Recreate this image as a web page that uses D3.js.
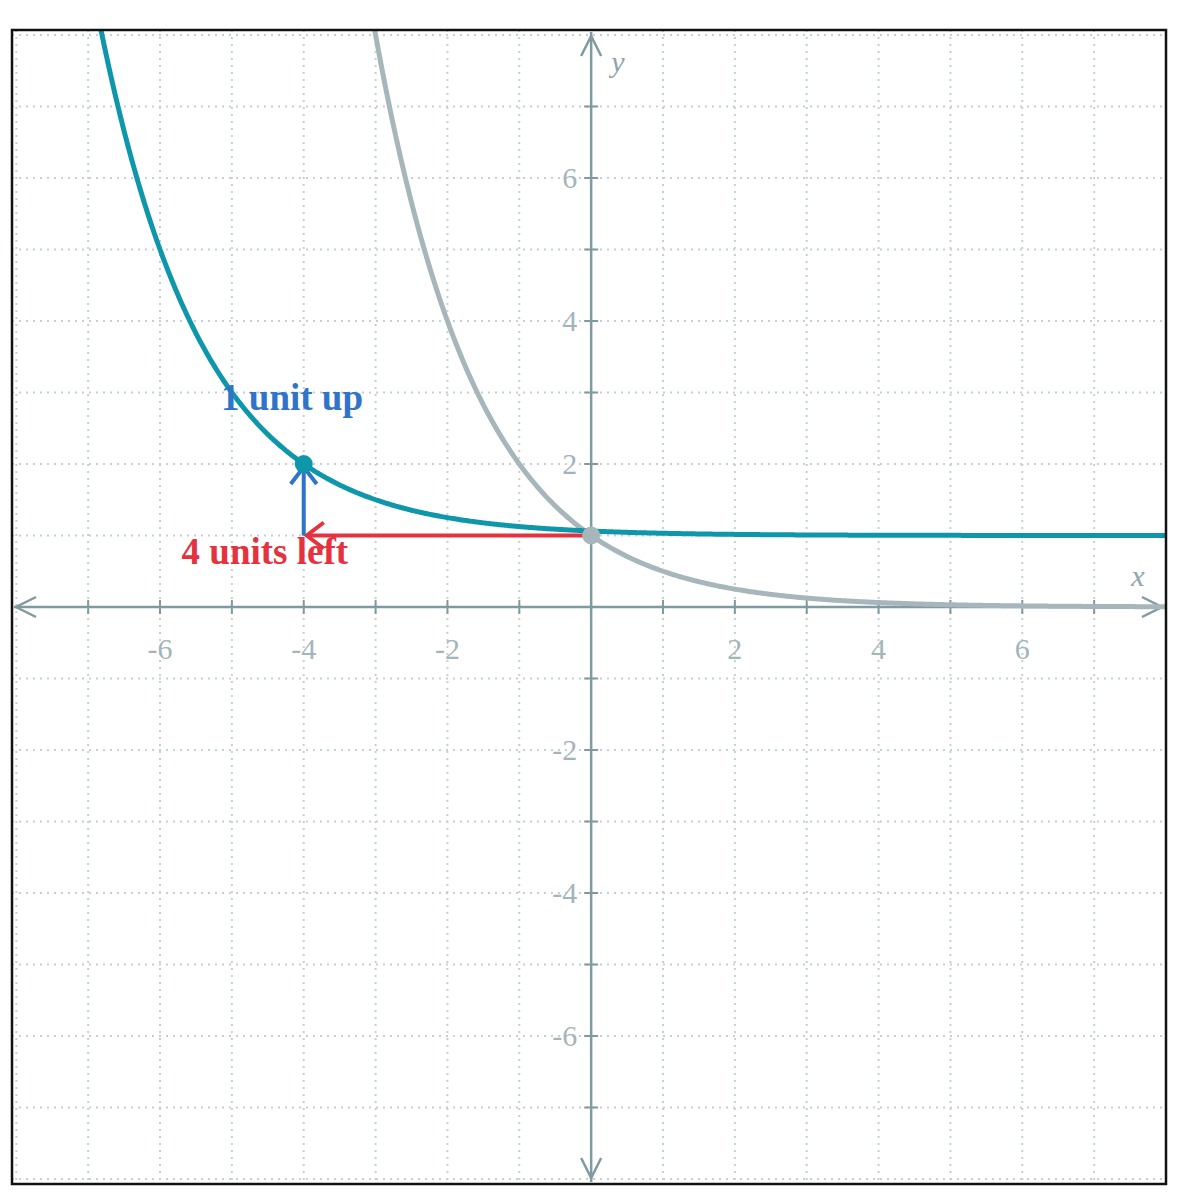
<!DOCTYPE html>
<html><head><meta charset="utf-8">
<script src="https://cdn.jsdelivr.net/npm/d3@7/dist/d3.min.js"></script>
<style>body{margin:0;background:#fff}</style></head>
<body><svg id="c" width="1189" height="1200"></svg>
<script>
const xDomain=[-8.06,8.0], yDomain=[-8.07,8.07];
const gridVals=d3.range(-8,9,1);
const labelVals=[-6,-4,-2,2,4,6];
const baseFn=x=>Math.pow(0.5,x);
const shiftFn=x=>Math.pow(0.5,x+4)+1;
const points=[{x:-4,y:2,c:"#0e97ab"},{x:0,y:1,c:"#a7b6bb"}];
const annotations=[{t:"1 unit up",x:-5.15,y:2.75,c:"#2f74c8"},{t:"4 units left",x:-5.7,y:0.6,c:"#e5323e"}];

const svg=d3.select("#c");
const x=d3.scaleLinear().domain(xDomain).range([12,1166]);
const y=d3.scaleLinear().domain(yDomain).range([1184,30]);
const defs=svg.append("defs");
defs.append("clipPath").attr("id","cp").append("rect").attr("x",12).attr("y",30).attr("width",1154).attr("height",1154);
const g=svg.append("g");
// grid
g.selectAll(".gv").data(gridVals.filter(v=>v!==0)).enter().append("line")
 .attr("x1",d=>x(d)).attr("x2",d=>x(d)).attr("y1",30).attr("y2",1184)
 .attr("stroke","#c5d0d3").attr("stroke-width",2).attr("stroke-dasharray","2,5");
g.selectAll(".gh").data(gridVals.filter(v=>v!==0)).enter().append("line")
 .attr("y1",d=>y(d)).attr("y2",d=>y(d)).attr("x1",12).attr("x2",1166)
 .attr("stroke","#c5d0d3").attr("stroke-width",2).attr("stroke-dasharray","2,5");
const ac="#7f9ba1";
// axes
g.append("line").attr("x1",14).attr("x2",1164).attr("y1",y(0)).attr("y2",y(0)).attr("stroke",ac).attr("stroke-width",2.5);
g.append("line").attr("y1",32).attr("y2",1182).attr("x1",x(0)).attr("x2",x(0)).attr("stroke",ac).attr("stroke-width",2.5);
const ar=(p)=>g.append("path").attr("d",p).attr("fill","none").attr("stroke",ac).attr("stroke-width",2.5);
ar(`M36,${y(0)-10}L16,${y(0)}L36,${y(0)+10}`);
ar(`M1142,${y(0)-10}L1162,${y(0)}L1142,${y(0)+10}`);
ar(`M${x(0)-10},56L${x(0)},36L${x(0)+10},56`);
ar(`M${x(0)-10},1158L${x(0)},1178L${x(0)+10},1158`);
g.selectAll(".tx").data(gridVals.filter(v=>v!==0&&Math.abs(v)<8)).enter().append("line")
 .attr("x1",d=>x(d)).attr("x2",d=>x(d)).attr("y1",y(0)-7).attr("y2",y(0)+7).attr("stroke",ac).attr("stroke-width",2);
g.selectAll(".ty").data(gridVals.filter(v=>v!==0&&Math.abs(v)<8)).enter().append("line")
 .attr("y1",d=>y(d)).attr("y2",d=>y(d)).attr("x1",x(0)-7).attr("x2",x(0)+7).attr("stroke",ac).attr("stroke-width",2);
const lc="#a3b5ba";
g.selectAll(".lx").data(labelVals).enter().append("text").attr("x",d=>x(d)).attr("y",y(0)+52)
 .attr("text-anchor","middle").attr("font-family","Liberation Serif").attr("font-size",30).attr("fill",lc).text(d=>d<0?"-"+(-d):d);
g.selectAll(".ly").data(labelVals).enter().append("text").attr("x",x(0)-14).attr("y",d=>y(d)+10)
 .attr("text-anchor","end").attr("font-family","Liberation Serif").attr("font-size",30).attr("fill",lc).text(d=>d<0?"-"+(-d):d);
g.append("text").attr("x",1138).attr("y",586).attr("text-anchor","middle").attr("font-family","Liberation Serif").attr("font-style","italic").attr("font-size",30).attr("fill","#8ea5ab").text("x");
g.append("text").attr("x",618).attr("y",72).attr("text-anchor","middle").attr("font-family","Liberation Serif").attr("font-style","italic").attr("font-size",30).attr("fill","#8ea5ab").text("y");
// curves
const xs=d3.range(-8.06,8.0001,0.02);
const line=d3.line().x(d=>x(d[0])).y(d=>y(d[1]));
const cg=g.append("g").attr("clip-path","url(#cp)");
cg.append("path").attr("d",line(xs.map(v=>[v,Math.min(baseFn(v),20)]))).attr("fill","none").attr("stroke","#a7b6bb").attr("stroke-width",5);
cg.append("path").attr("d",line(xs.map(v=>[v,Math.min(shiftFn(v),20)]))).attr("fill","none").attr("stroke","#0e97ab").attr("stroke-width",5);
// arrows
g.append("line").attr("x1",x(0)).attr("x2",x(-4)+3).attr("y1",y(1)).attr("y2",y(1)).attr("stroke","#e5323e").attr("stroke-width",4);
g.append("path").attr("d",`M${x(-4)+20},${y(1)-13}L${x(-4)+3},${y(1)}L${x(-4)+20},${y(1)+13}`).attr("fill","none").attr("stroke","#e5323e").attr("stroke-width",4);
g.append("line").attr("x1",x(-4)).attr("x2",x(-4)).attr("y1",y(1)).attr("y2",y(2)+3).attr("stroke","#2f74c8").attr("stroke-width",4);
g.append("path").attr("d",`M${x(-4)-13},${y(2)+20}L${x(-4)},${y(2)+3}L${x(-4)+13},${y(2)+20}`).attr("fill","none").attr("stroke","#2f74c8").attr("stroke-width",4);
g.selectAll(".pt").data(points).enter().append("circle").attr("cx",d=>x(d.x)).attr("cy",d=>y(d.y)).attr("r",9).attr("fill",d=>d.c);
g.selectAll(".an").data(annotations).enter().append("text").attr("x",d=>x(d.x)).attr("y",d=>y(d.y))
 .attr("font-family","Liberation Serif").attr("font-weight","bold").attr("font-size",37).attr("fill",d=>d.c).text(d=>d.t);
// frame
svg.append("rect").attr("x",12).attr("y",30).attr("width",1154).attr("height",1154).attr("fill","none").attr("stroke","#111").attr("stroke-width",2.5);
</script></body></html>
